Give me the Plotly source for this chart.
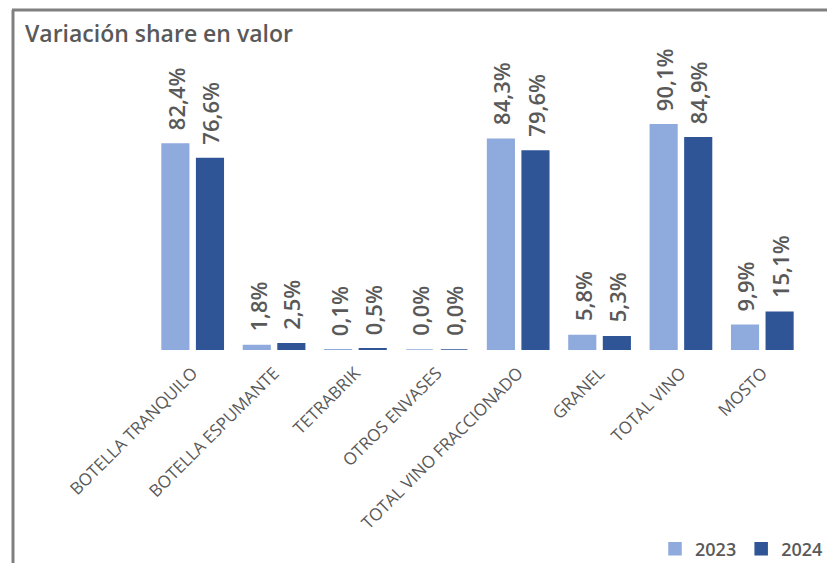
import plotly.graph_objects as go

categories = ["BOTELLA TRANQUILO", "BOTELLA ESPUMANTE", "TETRABRIK", "OTROS ENVASES",
              "TOTAL VINO FRACCIONADO", "GRANEL", "TOTAL VINO", "MOSTO"]
series_names = ["2023", "2024"]
values_2023 = [82.4, 1.8, 0.1, 0.0, 84.3, 5.8, 90.1, 9.9]
values_2024 = [76.6, 2.5, 0.5, 0.0, 79.6, 5.3, 84.9, 15.1]
title_text = "Variación share en valor"

colors = ["#8FAADC", "#2F5597"]
W, H = 827, 563
ml, mr, mt, mb = 152, 24, 50, 213
pw, ph = W - ml - mr, H - mt - mb

def fmt(v):
    return f"{v:.1f}".replace(".", ",") + "%"

fig = go.Figure()
for name, vals, col in zip(series_names, [values_2023, values_2024], colors):
    fig.add_trace(go.Bar(x=categories, y=vals, name=name, marker_color=col,
                         marker_line=dict(color=col, width=1.5)))

annotations = []
for k, vals in enumerate([values_2023, values_2024]):
    shift = -17 if k == 0 else 17
    for c, v in zip(categories, vals):
        annotations.append(dict(x=c, y=v, xref="x", yref="y", text=fmt(v),
                                showarrow=False, textangle=-90, xshift=shift, yshift=12,
                                xanchor="center", yanchor="bottom",
                                font=dict(family="Open Sans", size=22, color="#595959", weight=600)))

annotations.append(dict(x=(23 - ml) / pw, y=1 + (mt - 33) / ph, xref="paper", yref="paper",
                        text=title_text, showarrow=False, xanchor="left", yanchor="middle",
                        font=dict(family="Open Sans", size=23, color="#595959", weight=600)))

shapes = [
    dict(type="line", xref="paper", yref="paper", x0=(12 - ml) / pw, x1=(W - ml) / pw,
         y0=1 + (mt - 10) / ph, y1=1 + (mt - 10) / ph, line=dict(color="#808080", width=3)),
    dict(type="line", xref="paper", yref="paper", x0=(13 - ml) / pw, x1=(13 - ml) / pw,
         y0=1 + (mt - 10) / ph, y1=-(mb + 5) / ph, line=dict(color="#808080", width=3)),
]

fig.update_layout(
    width=W, height=H,
    margin=dict(l=ml, r=mr, t=mt, b=mb, autoexpand=False),
    paper_bgcolor="white", plot_bgcolor="white",
    barmode="group", bargap=0.15, bargroupgap=0.23,
    annotations=annotations, shapes=shapes,
    showlegend=True,
    legend=dict(orientation="h", x=(828 - ml) / pw, xanchor="right", y=-(549 - (mt + ph)) / ph,
                yanchor="middle", font=dict(family="Open Sans", size=18, color="#595959", weight=600),
                itemwidth=30, traceorder="normal"),
    xaxis=dict(showline=False, showgrid=False, ticks="", tickangle=-45, ticklabelstandoff=9,
               tickfont=dict(family="Open Sans", size=17, color="#595959")),
    yaxis=dict(range=[0, ph / 2.5], visible=False, showgrid=False),
)

fig.write_html("out.html", config={"displayModeBar": False},
               post_script="document.body.style.margin='0';")
